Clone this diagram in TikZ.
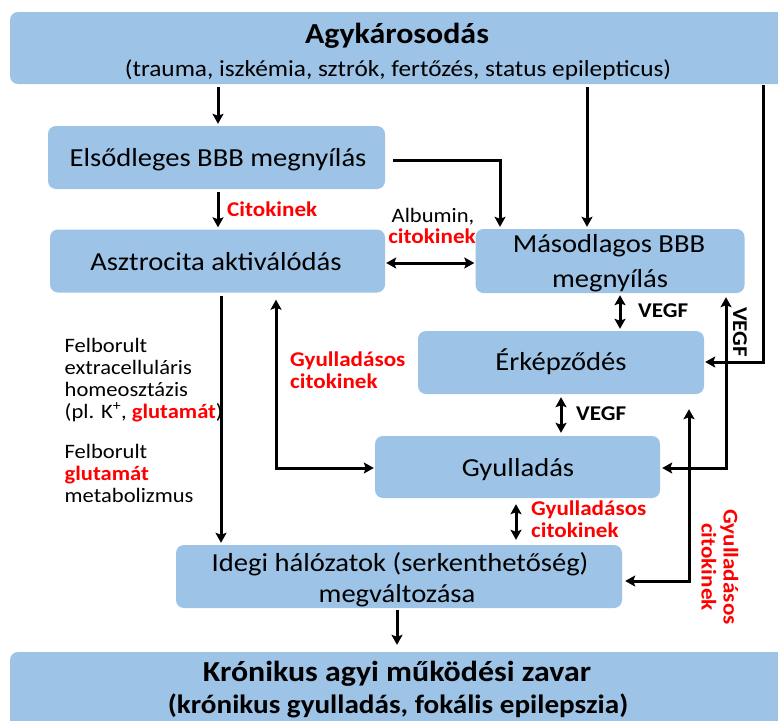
\documentclass[tikz,border=0pt]{standalone}
\usepackage{fontspec}
\setmainfont{Carlito}[FakeStretch=1.1]
\usetikzlibrary{arrows.meta,calc}
\definecolor{boxblue}{RGB}{157,195,230}
\definecolor{lblred}{RGB}{255,0,0}
\begin{document}
\begin{tikzpicture}[x=1pt,y=-1pt,
  box/.style={fill=boxblue,draw=none,rounded corners=8pt,inner sep=0pt},
  txt/.style={inner sep=0pt,anchor=base},
  ltxt/.style={inner sep=0pt,anchor=base west},
  bf/.style={font=\fontsize{26}{30}\selectfont},
  tf/.style={font=\fontsize{29}{34}\selectfont\bfseries},
  sf/.style={font=\fontsize{23}{27}\selectfont},
  sideft/.style={font=\fontsize{20.5}{22}\selectfont},
  lab/.style={font=\fontsize{21}{22}\selectfont\bfseries},
  redlab/.style={lab,text=lblred},
  tip/.tip={Stealth[length=10pt,width=11pt,inset=2pt]},
  arr/.style={line width=3pt,-tip},
  darr/.style={line width=3pt,tip-tip}
]
\useasboundingbox (0,0) rectangle (778,720);

% boxes
\node[box,minimum width=776pt,minimum height=72pt] (top) at (398,48) {};
\node[box,minimum width=337pt,minimum height=63pt] (e) at (216.5,157.5) {};
\node[box,minimum width=335pt,minimum height=63pt] (a) at (217.5,261) {};
\node[box,minimum width=269pt,minimum height=64pt] (m) at (610,261) {};
\node[box,minimum width=286pt,minimum height=63pt] (k) at (561,362.5) {};
\node[box,minimum width=285pt,minimum height=62pt] (g) at (517.5,467) {};
\node[box,minimum width=446pt,minimum height=63pt] (i) at (399,576.5) {};
\node[box,minimum width=776pt,minimum height=83pt] (b) at (398,693.5) {};

% box texts
\node[txt,tf] (t1) at (397,43) {Agykárosodás};
\node[txt,sf] (t2) at (398,76.5) {(trauma, iszkémia, sztrók, fertőzés, status epilepticus)};
\node[txt,bf] (te) at (218,166.5) {Elsődleges BBB megnyílás};
\node[txt,bf] (ta) at (216,270) {Asztrocita aktiválódás};
\node[txt,bf] (tm1) at (609,252) {Másodlagos BBB};
\node[txt,bf] (tm2) at (610,287) {megnyílás};
\node[txt,bf] (tk) at (561,370) {Érképződés};
\node[txt,bf] (tg) at (518,476) {Gyulladás};
\node[txt,bf] (ti1) at (400,571) {Idegi hálózatok (serkenthetőség)};
\node[txt,bf] (ti2) at (397,602) {megváltozása};
\node[txt,tf] (tb1) at (397,681.5) {Krónikus agyi működési zavar};
\node[txt,font=\fontsize{26.5}{30}\selectfont\bfseries] (tb2) at (398,713) {(krónikus gyulladás, fokális epilepszia)};

% side texts
\node[ltxt,sideft] (s1) at (64.5,352) {Felborult};
\node[ltxt,sideft] (s2) at (64.5,374) {extracelluláris};
\node[ltxt,sideft] (s3) at (64.5,396) {homeosztázis};
\node[ltxt,sideft] (s4) at (64.5,418) {(pl. K\textsuperscript{+}, \textcolor{lblred}{\textbf{glutamát}})};
\node[ltxt,sideft] (s5) at (64.5,458) {Felborult};
\node[ltxt,sideft,text=lblred] (s6) at (64.5,480) {\textbf{glutamát}};
\node[ltxt,sideft] (s7) at (64.5,502) {metabolizmus};

% labels
\node[ltxt,redlab] (l1) at (227,216.5) {Citokinek};
\node[txt,font=\fontsize{20.5}{22}\selectfont] (l2) at (433,222) {Albumin,};
\node[txt,redlab] (l3) at (432,243) {citokinek};
\node[ltxt,redlab] (l4) at (290,366) {Gyulladásos};
\node[ltxt,redlab] (l5) at (290,388) {citokinek};
\node[ltxt,lab] (l6) at (638,317) {VEGF};
\node[ltxt,lab] (l7) at (576,420) {VEGF};
\node[ltxt,redlab] (l8) at (531,515) {Gyulladásos};
\node[ltxt,redlab] (l9) at (531,537) {citokinek};
\node[lab,rotate=-90,inner sep=0pt] (l10) at (740,332) {VEGF};
\node[redlab,rotate=-90,inner sep=0pt,align=center] (l11) at (720,567) {Gyulladásos\\citokinek};

% helper positions
\coordinate (x218) at (218,0);
\coordinate (x221) at (221,0);
\coordinate (x276) at (276,0);
\coordinate (x397) at (397,0);
\coordinate (x500) at (500,0);
\coordinate (x516) at (516,0);
\coordinate (x561) at (561,0);
\coordinate (x587) at (587,0);
\coordinate (x620) at (620,0);
\coordinate (x689) at (689,0);
\coordinate (x726) at (726,0);
\coordinate (x763) at (763,0);
\coordinate (y160) at (0,160);
\coordinate (y263) at (0,263);
\coordinate (y468) at (0,468);
\coordinate (y362) at (0,362);
\coordinate (y581) at (0,581);

% connectors
\draw[arr,shorten <=3pt,shorten >=2pt] (top.south -| x218) -- (e.north -| x218);
\draw[arr,shorten <=3pt,shorten >=2pt] (top.south -| x587) -- (m.north -| x587);
\draw[arr,shorten <=1pt,shorten >=1pt] (top.south -| x763) |- (k.east |- y362);
\draw[arr,shorten <=8pt,shorten >=2pt] (e.east |- y160) -| (m.north -| x500);
\draw[arr,shorten <=3pt,shorten >=2pt] (e.south -| x218) -- (a.north -| x218);
\draw[darr,shorten <=1pt,shorten >=1pt] (a.east |- y263) -- (m.west |- y263);
\draw[arr,shorten <=3pt,shorten >=2pt] (a.south -| x221) -- (i.north -| x221);
\draw[darr,shorten <=7pt,shorten >=1pt] (a.south -| x276) |- (g.west |- y468);
\draw[darr,shorten <=2pt,shorten >=2pt] (m.south -| x620) -- (k.north -| x620);
\draw[darr,shorten <=3pt,shorten >=3pt] (k.south -| x561) -- (g.north -| x561);
\draw[darr,shorten <=6pt,shorten >=5pt] (g.south -| x516) -- (i.north -| x516);
\draw[darr,shorten <=2pt,shorten >=4pt] (g.east |- y468) -| (m.south -| x726);
\draw[darr,shorten <=3pt,shorten >=15pt] (i.east |- y581) -| (k.south -| x689);
\draw[arr,shorten <=2pt,shorten >=7pt] (i.south -| x397) -- (b.north -| x397);
\end{tikzpicture}
\end{document}
